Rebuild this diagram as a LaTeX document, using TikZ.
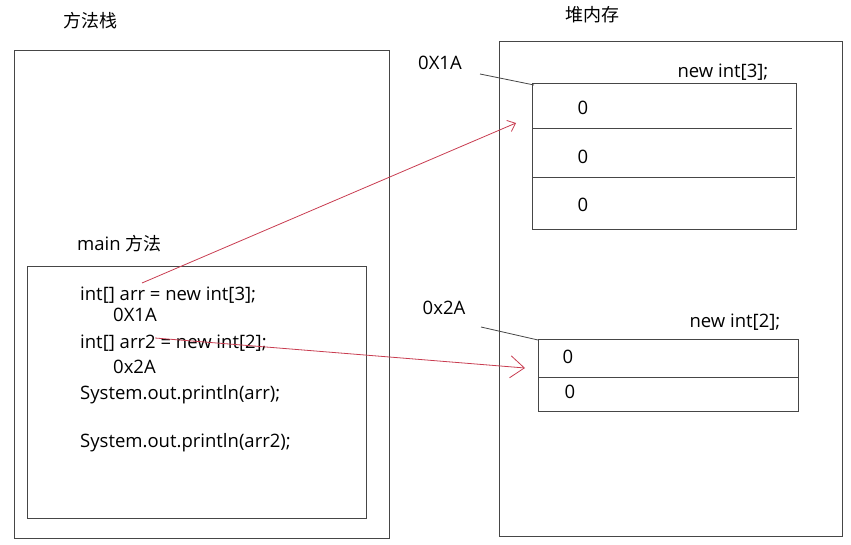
\documentclass[tikz,border=0pt]{standalone}
\usepackage{fontspec}
\setmainfont{Open Sans}
\newfontfamily\cjk{Noto Sans CJK SC}
\usetikzlibrary{arrows.meta}
\definecolor{arrred}{RGB}{200,60,80}
\definecolor{boxgray}{RGB}{70,70,70}
\begin{document}
\begin{tikzpicture}[x=1pt,y=-1pt,
  box/.style={draw=boxgray,line width=1pt},
  txt/.style={inner sep=0pt,font=\fontsize{18.5}{20}\selectfont},
  cjktxt/.style={inner sep=0pt,font=\fontsize{18}{20}\selectfont\cjk},
  lbl/.style={txt,anchor=west},
  ptr/.style={draw=arrred,line width=0.8pt},
  lead/.style={draw=boxgray,line width=0.8pt}]
\useasboundingbox (0,0) rectangle (851,545);
% outer frames
\draw[box] (14,51) rectangle (389,538);
\draw[box] (499,42) rectangle (842,536);
\draw[box] (27,267) rectangle (366,518);
% titles
\node[cjktxt] (stack) at (90,21) {方法栈};
\node[cjktxt] (heap) at (592,15) {堆内存};
\node[lbl] (mainlbl) at (77,244) {main {\fontsize{18}{20}\selectfont\cjk 方法}};
% code lines
\node[lbl] (l1) at (80,295) {int[] arr = new int[3];};
\node[lbl] (a1) at (113,315) {0X1A};
\node[lbl] (l2) at (80,343) {int[] arr2 = new int[2];};
\node[lbl] (a2) at (113,367) {0x2A};
\node[lbl] (l3) at (80,395) {System.out.println(arr);};
\node[lbl] (l4) at (80,443) {System.out.println(arr2);};
% array 1
\draw[box] (532,84) rectangle (796,230);
\draw[box] (532,129) -- (792,129);
\draw[box] (532,178) -- (795,178);
\node[txt] (n3) at (723,72) {new int[3];};
\node[txt] (z11) at (583,108) {0};
\node[txt] (z12) at (583,157) {0};
\node[txt] (z13) at (583,205) {0};
\node[txt] (addr1) at (440,63) {0X1A};
\coordinate (c1a) at (480,74);
\coordinate (c1b) at (534,85);
\draw[lead] (c1a) -- (c1b);
% array 2
\draw[box] (538,339) rectangle (798,411);
\draw[box] (538,377) -- (798,377);
\node[txt] (n2) at (735,322) {new int[2];};
\node[txt] (z21) at (568,357) {0};
\node[txt] (z22) at (570,392) {0};
\node[txt] (addr2) at (444,308) {0x2A};
\coordinate (c2a) at (481,327);
\coordinate (c2b) at (538,340);
\draw[lead] (c2a) -- (c2b);
% pointers
\coordinate (p1s) at (142,283);
\coordinate (p1e) at (516,123);
\coordinate (p2s) at (155,338);
\coordinate (p2e) at (525,368);
\draw[ptr,-{Straight Barb[length=7pt,width=12pt]}] (p1s) -- (p1e);
\draw[ptr,-{Straight Barb[length=14pt,width=22pt]}] (p2s) -- (p2e);
\end{tikzpicture}
\end{document}
